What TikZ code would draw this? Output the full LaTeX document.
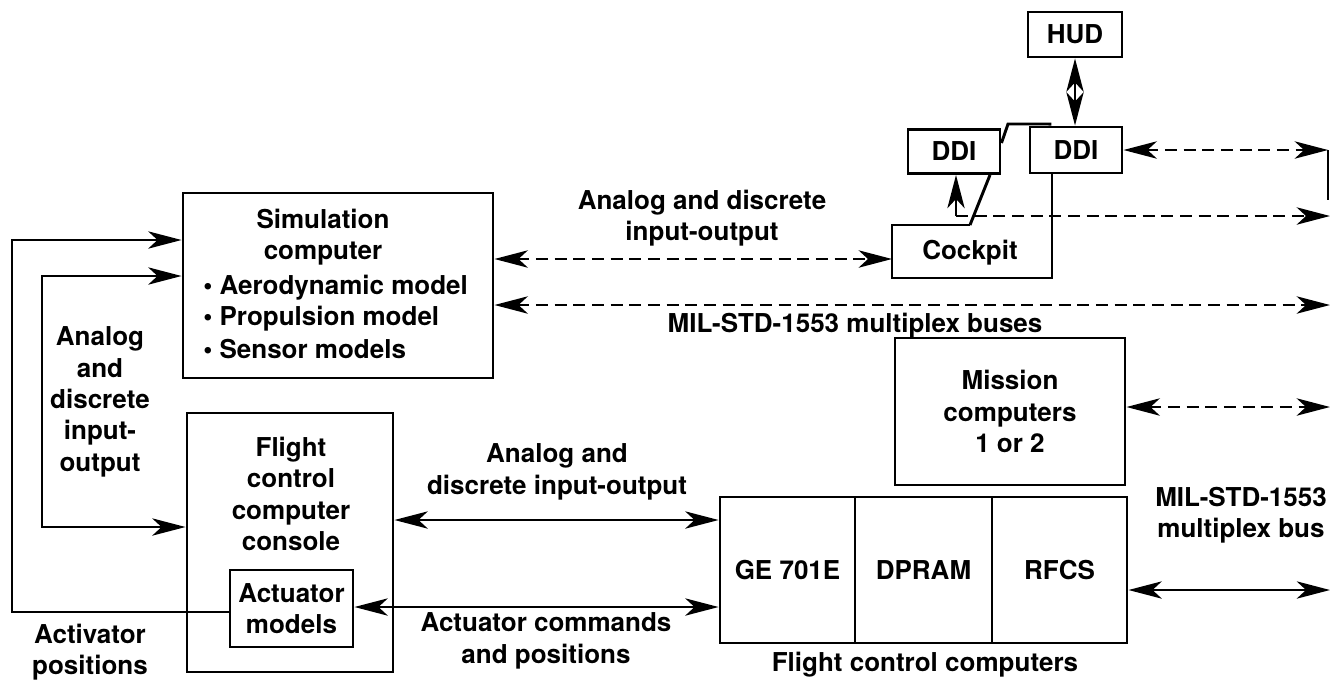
\documentclass[tikz,border=0pt]{standalone}
\usepackage{fontspec}
\setmainfont{TeX Gyre Heros}
\usetikzlibrary{arrows.meta}
\begin{document}
\begin{tikzpicture}[x=0.75pt,y=-0.75pt,
  font=\bfseries\fontsize{19.5}{23.5}\selectfont,
  box/.style={draw, line width=2.2pt, inner sep=0pt, align=center},
  lbl/.style={align=center, inner sep=0pt},
  outline/.style={line width=2.2pt, line join=miter},
  conn/.style={line width=1.5pt},
  dsh/.style={line width=2pt, dash pattern=on 9pt off 5pt},
  >={Stealth[length=25pt,width=13pt,inset=7pt]},
]
\useasboundingbox (0,0) rectangle (1330,683);

% boxes
\node[box, minimum width={310*0.75pt}, minimum height={185*0.75pt}] (sim) at (338,285.5) {};
\node[lbl] (simt) at (323,237) {Simulation\\computer};
\node[lbl, anchor=west] (b1) at (203,288) {• Aerodynamic model};
\node[lbl, anchor=west] (b2) at (203,319) {• Propulsion model};
\node[lbl, anchor=west] (b3) at (203,349) {• Sensor models};

\node[box, minimum width={206*0.75pt}, minimum height={259*0.75pt}] (fcc) at (290,542.5) {};
\node[lbl] (fcct) at (291,494) {Flight\\control\\computer\\console};
\node[box, minimum width={123*0.75pt}, minimum height={77*0.75pt}] (act) at (291.5,608.5) {Actuator\\models};

\node[box, minimum width={135*0.75pt}, minimum height={146*0.75pt}] (ge) at (787.5,570) {GE 701E};
\node[box, minimum width={137*0.75pt}, minimum height={146*0.75pt}] (dpram) at (923.5,570) {DPRAM};
\node[box, minimum width={135*0.75pt}, minimum height={146*0.75pt}] (rfcs) at (1059.5,570) {RFCS};
\node[lbl] (fccl) at (925,665) {Flight control computers};

\node[box, minimum width={230*0.75pt}, minimum height={147*0.75pt}] (mis) at (1010,411.5) {Mission\\computers\\1 or 2};

\node[box, minimum width={94*0.75pt}, minimum height={45*0.75pt}] (hud) at (1075,34.5) {HUD};
\node[box, minimum width={92*0.75pt}, minimum height={46*0.75pt}] (ddiR) at (1076,150) {DDI};
\node[box, minimum width={92*0.75pt}, minimum height={44*0.75pt}] (ddiL) at (954,151.5) {DDI};
\node[lbl] (cock) at (970,253) {Cockpit};

% cockpit outline
\draw[outline] (970,225) -- (892,225) -- (892,278) -- (1052,278) -- (ddiR.south -| 1052,0);
\draw[outline] (970,225) -- (ddiL.south -| 990,0);
\draw[outline] (ddiL.east |- 0,143) -- (1008,124) -- (1050,124) -- (ddiR.north -| 1050,0);

% labels
\node[lbl] (l1) at (702,218) {Analog and discrete\\input-output};
\node[lbl] (l2) at (855,326) {MIL-STD-1553 multiplex buses};
\node[lbl] (l3) at (100,402) {Analog\\and\\discrete\\input-\\output};
\node[lbl] (l4) at (90,652) {Activator\\positions};
\node[lbl] (l5) at (557,472) {Analog and\\discrete input-output};
\node[lbl] (l6) at (546,641) {Actuator commands\\and positions};
\node[lbl] (l7) at (1241,515) {MIL-STD-1553\\multiplex bus};

% free ends
\coordinate (ckW) at (892,259);
\coordinate (e1) at (1330,305);
\coordinate (e2) at (1328,150);
\coordinate (e2b) at (1328,200);
\coordinate (e3s) at (956,216);
\coordinate (e3) at (1330,216);
\coordinate (e4) at (1330,407);
\coordinate (e5) at (1330,590);

% connectors
\draw[dsh,<->] (sim.east |- ckW) -- (ckW);
\draw[dsh,<->] (sim.east |- e1) -- (e1);
\draw[dsh,<->] (ddiR.east) -- (e2);
\draw[conn] (e2) -- (e2b);
\draw[dsh,->] (e3s) -- (e3);
\draw[conn,->] (e3s) -- (ddiL.south -| e3s);
\draw[dsh,<->] (mis.east |- e4) -- (e4);
\draw[conn,<->] (rfcs.east |- e5) -- (e5);
\draw[conn,<->] (fcc.east |- 0,520) -- (ge.west |- 0,520);
\draw[conn,<->] (act.east |- 0,607) -- (ge.west |- 0,607);
\draw[conn,<->] (hud.south) -- (hud.south |- ddiR.north);
\draw[conn,->] (act.west |- 0,612) -- (12,612) -- (12,240) -- (sim.west |- 0,240);
\draw[conn,<->] (sim.west |- 0,276) -- (42,276) -- (42,527) -- (fcc.west |- 0,527);
\end{tikzpicture}
\end{document}
